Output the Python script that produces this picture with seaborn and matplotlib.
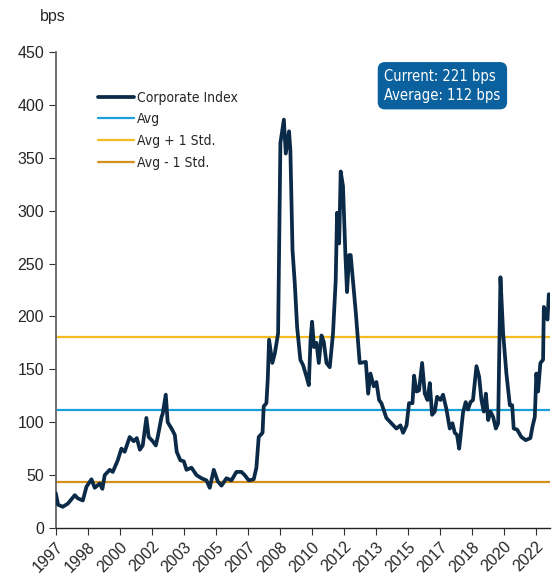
import numpy as np
import pandas as pd
import matplotlib.pyplot as plt
import seaborn as sns
from matplotlib import font_manager

# spread series (decimal year, bps)
years = [1997.00, 1997.12, 1997.36, 1997.63, 1997.99, 1998.15, 1998.41, 1998.60, 1998.86, 1999.03,
         1999.29, 1999.43, 1999.55, 1999.81, 1999.97, 2000.23, 2000.42, 2000.59, 2000.85, 2001.06,
         2001.22, 2001.38, 2001.53, 2001.72, 2001.84, 2002.05, 2002.21, 2002.31, 2002.51, 2002.57,
         2002.73, 2002.83, 2003.03, 2003.20, 2003.30, 2003.49, 2003.67, 2003.81, 2004.07, 2004.33,
         2004.59, 2004.85, 2005.02, 2005.23, 2005.44, 2005.63, 2005.89, 2006.15, 2006.41, 2006.67,
         2006.84, 2007.05, 2007.31, 2007.45, 2007.57, 2007.77, 2007.83, 2007.97, 2008.04, 2008.11,
         2008.28, 2008.41, 2008.58, 2008.70, 2008.88, 2008.98, 2009.15, 2009.22, 2009.33, 2009.45,
         2009.57, 2009.74, 2009.88, 2010.06, 2010.18, 2010.27, 2010.35, 2010.45, 2010.58, 2010.70,
         2010.84, 2010.96, 2011.10, 2011.27, 2011.44, 2011.58, 2011.65, 2011.76, 2011.84, 2011.96,
         2012.09, 2012.17, 2012.28, 2012.36, 2012.63, 2012.83, 2013.15, 2013.27, 2013.39, 2013.56,
         2013.70, 2013.84, 2013.96, 2014.22, 2014.48, 2014.74, 2014.95, 2015.09, 2015.27, 2015.40,
         2015.58, 2015.66, 2015.79, 2015.92, 2016.08, 2016.22, 2016.36, 2016.48, 2016.60, 2016.74,
         2016.86, 2017.04, 2017.17, 2017.35, 2017.52, 2017.66, 2017.78, 2017.90, 2018.01, 2018.09,
         2018.21, 2018.35, 2018.47, 2018.60, 2018.73, 2018.91, 2019.05, 2019.17, 2019.29, 2019.40,
         2019.52, 2019.64, 2019.78, 2019.92, 2020.04, 2020.16, 2020.30, 2020.47, 2020.65, 2020.77,
         2020.85, 2021.03, 2021.25, 2021.48, 2021.72, 2021.83, 2021.95, 2022.03, 2022.12, 2022.24,
         2022.38, 2022.42, 2022.52, 2022.61, 2022.68]
spread = [33, 22, 20, 23, 31, 28, 26, 39, 46, 38,
          42, 37, 50, 55, 53, 64, 75, 72, 86, 82,
          85, 74, 78, 104, 86, 82, 78, 86, 105, 108,
          126, 100, 94, 88, 72, 64, 63, 55, 57, 50,
          47, 45, 38, 55, 44, 40, 47, 45, 53, 53,
          50, 45, 46, 57, 86, 90, 115, 118, 140, 178,
          156, 165, 184, 364, 386, 354, 375, 357, 263, 231,
          190, 159, 154, 143, 135, 178, 195, 171, 175, 156,
          182, 176, 156, 152, 184, 234, 298, 269, 337, 323,
          256, 223, 258, 258, 203, 156, 157, 127, 146, 134,
          138, 121, 118, 104, 99, 94, 97, 90, 97, 118,
          118, 144, 129, 130, 156, 127, 121, 137, 107, 110,
          124, 121, 126, 112, 94, 99, 90, 88, 75, 88,
          109, 119, 112, 119, 121, 153, 143, 121, 110, 127,
          102, 110, 105, 94, 99, 237, 184, 146, 116, 116,
          94, 93, 86, 83, 85, 96, 105, 146, 129, 156,
          159, 209, 204, 197, 221]

avg = 112
avg_plus = 181
avg_minus = 43

tick_labels = ['1997', '1998', '2000', '2002', '2003', '2005', '2007', '2008',
               '2010', '2012', '2013', '2015', '2017', '2018', '2020', '2022']

df = pd.DataFrame({'Year': years, 'Spread': spread})

sns.set_style('ticks')
plt.rcParams['font.family'] = ['Liberation Sans', 'DejaVu Sans']

# condensed face for legend and callout if one is installed
names = {f.name for f in font_manager.fontManager.ttflist}
if 'Liberation Sans Narrow' in names:
    narrow = font_manager.FontProperties(family='Liberation Sans Narrow', size=11)
else:
    narrow = font_manager.FontProperties(family='DejaVu Sans', stretch='condensed', size=10)

fig = plt.figure(figsize=(5.52, 5.8), dpi=100)
ax = fig.add_axes([0.101, 0.0897, 0.895, 0.8207])

navy = '#0a2a47'
c_avg = '#1aa0d8'
c_plus = '#f4bb22'
c_minus = '#d4911c'

sns.lineplot(data=df, x='Year', y='Spread', color=navy, linewidth=2.7, ax=ax,
             label='Corporate Index', zorder=3)
ax.axhline(avg, color=c_avg, linewidth=1.6, label='Avg', zorder=2)
ax.axhline(avg_plus, color=c_plus, linewidth=1.6, label='Avg + 1 Std.', zorder=2)
ax.axhline(avg_minus, color=c_minus, linewidth=1.6, label='Avg - 1 Std.', zorder=2)

ax.set_xlim(years[0], years[-1] + 0.05)
ax.set_ylim(0, 450)
ax.set_yticks(range(0, 451, 50))
ax.set_xticks([1997 + k * 20 / 12 for k in range(len(tick_labels))])
ax.set_xticklabels(tick_labels, rotation=45, ha='right', rotation_mode='anchor')
ax.tick_params(axis='both', labelsize=11.5, length=5, color='#333333')
ax.tick_params(axis='x', pad=3)
ax.set_xlabel('')
ax.set_ylabel('')

for side in ['top', 'right']:
    ax.spines[side].set_visible(False)
ax.spines['left'].set_color('#666666')
ax.spines['left'].set_linewidth(1.3)
ax.spines['bottom'].set_color('#222222')
ax.spines['bottom'].set_linewidth(1.0)

leg = ax.legend(loc='upper left', bbox_to_anchor=(0.06, 0.945), frameon=False,
                handlelength=2.6, handletextpad=0.2, labelspacing=0.55, prop=narrow)

box_font = narrow.copy()
box_font.set_size(narrow.get_size() + 0.5)
ax.text(0.665, 0.965, 'Current: 221 bps\nAverage: 112 bps', transform=ax.transAxes,
        ha='left', va='top', color='white', fontproperties=box_font, linespacing=1.35,
        bbox=dict(boxstyle='round,pad=0.45,rounding_size=0.5', fc='#0a619e', ec='none'))

fig.text(0.072, 0.972, 'bps', fontsize=11.5, ha='left', va='center')

plt.savefig('out.png', dpi=100)
